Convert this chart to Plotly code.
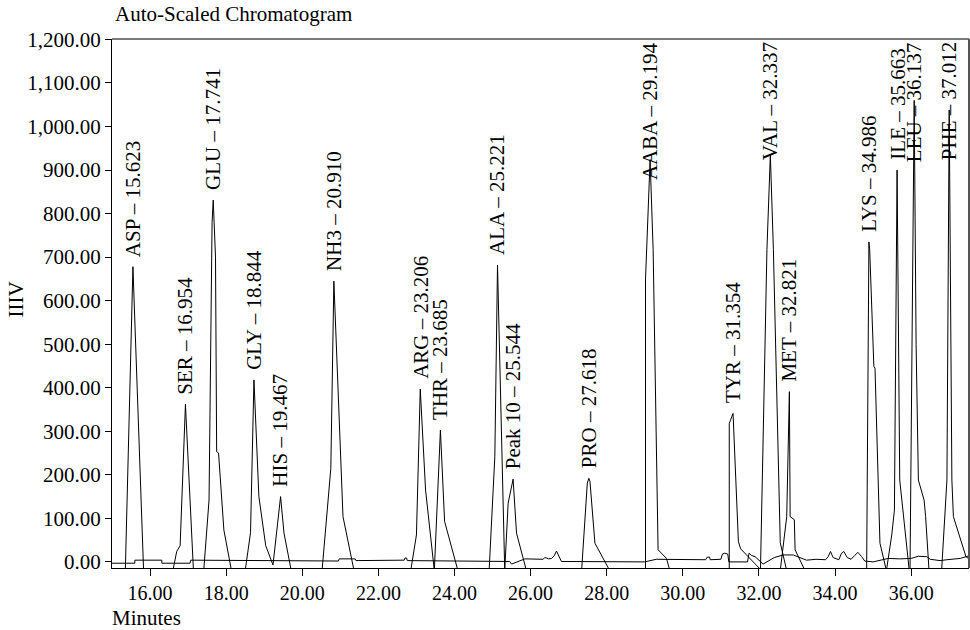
import plotly.graph_objects as go

# ---------------- data ----------------
peak_names = ["ASP", "SER", "GLU", "GLY", "HIS", "NH3", "ARG", "THR", "ALA", "Peak 10",
              "PRO", "AABA", "TYR", "VAL", "MET", "LYS", "ILE", "LEU", "PHE"]
peak_rt = ["15.623", "16.954", "17.741", "18.844", "19.467", "20.910", "23.206", "23.685",
           "25.221", "25.544", "27.618", "29.194", "31.354", "32.337", "32.821", "34.986",
           "35.663", "36.137", "37.012"]
apex_time = [15.55, 16.93, 17.65, 18.73, 19.43, 20.83, 23.10, 23.63, 25.13, 25.54,
             27.53, 29.14, 31.32, 32.30, 32.80, 34.89, 35.63, 36.08, 37.00]
apex_mv = [678, 362, 831, 418, 150, 645, 397, 303, 682, 190,
           192, 924, 341, 935, 391, 735, 900, 1060, 1038]

# sample chromatogram, one segment per peak group (time in minutes, signal in mV)
sample_segments = [
    [(15.35, -20), (15.55, 678), (15.83, -20)],
    [(16.60, -20), (16.70, 24), (16.79, 37), (16.93, 362), (17.14, -20)],
    [(17.41, -20), (17.55, 142), (17.63, 780), (17.66, 831), (17.72, 700), (17.75, 253),
     (17.80, 250), (17.94, 73), (18.14, -20)],
    [(18.50, -20), (18.64, 67), (18.73, 418), (18.86, 150), (19.04, 37), (19.23, -7),
     (19.43, 150), (19.52, 66), (19.71, -20)],
    [(20.52, -20), (20.75, 215), (20.83, 645), (21.07, 104), (21.36, -20)],
    [(22.85, -20), (23.00, 62), (23.10, 397), (23.24, 165), (23.47, -20), (23.63, 303),
     (23.74, 93), (24.09, -20)],
    [(24.91, -20), (25.06, 242), (25.13, 682), (25.32, -20), (25.41, 135), (25.54, 190),
     (25.63, 66), (25.89, -20)],
    [(27.34, -20), (27.49, 181), (27.53, 192), (27.56, 185), (27.69, 43), (28.08, -20)],
    [(29.02, -20), (29.02, 650), (29.14, 924), (29.22, 717), (29.35, 28), (29.57, 8),
     (29.66, -20)],
    [(31.22, -20), (31.22, 318), (31.32, 341), (31.46, 47), (31.52, 30), (31.72, 12),
     (32.07, -20)],
    [(32.04, -20), (32.21, 717), (32.30, 935), (32.38, 717), (32.56, 44), (32.73, -20)],
    [(32.56, -20), (32.73, 104), (32.80, 391), (32.82, 104), (32.93, 97), (32.95, 28),
     (33.21, -20)],
    [(34.83, -20), (34.89, 735), (34.91, 717), (35.02, 449), (35.05, 445), (35.18, 43),
     (35.35, -20)],
    [(35.35, -20), (35.49, 62), (35.56, 119), (35.63, 900), (35.70, 188), (35.84, 66),
     (35.95, -20)],
    [(35.97, -20), (36.08, 1060), (36.13, 500), (36.19, 188), (36.34, 142), (36.38, 104),
     (36.47, -20)],
    [(36.80, -20), (36.94, 188), (37.00, 1038), (37.07, 188), (37.11, 104), (37.44, 12),
     (37.55, 5)],
]

# baseline / blank trace
baseline_time = [15.0, 15.60, 15.60, 16.31, 16.31, 17.05, 17.07, 20.95, 20.97, 21.39, 21.41,
                 22.68, 22.70, 22.74, 22.76, 25.45, 25.50, 25.85, 26.33, 26.37, 26.42, 26.47,
                 26.55, 26.62, 26.68, 26.74, 26.81, 29.00, 29.30, 30.60, 30.64, 30.70, 30.72,
                 31.00, 31.04, 31.10, 31.18, 31.21, 31.70, 31.74, 31.80, 31.90, 32.11, 32.40,
                 32.64, 32.90, 33.25, 33.50, 33.75, 33.82, 33.88, 33.95, 34.10, 34.17, 34.23,
                 34.32, 34.42, 34.52, 34.60, 34.70, 34.78, 35.00, 35.28, 35.40, 35.70, 36.00,
                 36.19, 36.41, 36.50, 36.76, 36.94, 37.29, 37.44, 37.52]
baseline_mv = [-3, -3, 4, 4, -3, -3, 4, 2, 7, 7, 3,
               4, 9, 9, 3, 1, -5, 7, 6, 10, 9, 7,
               8, 14, 25, 14, 1, 0, 6, 5, 11, 11, 5,
               6, 18, 20, 18, 0, 0, 20, 15, 12, -5, 10,
               16, 16, 4, 6, 5, 12, 24, 10, 5, 20, 24,
               10, 6, 15, 22, 12, 2, 0, 5, 8, 7, 8,
               13, 12, 6, 3, 5, 8, 12, 14]

y_ticks = list(range(0, 1201, 100))
x_ticks = list(range(16, 37, 2))

# ---------------- figure ----------------
FONT = "Liberation Serif, Times New Roman, serif"

sx, sy = [], []
for seg in sample_segments:
    for t, v in seg:
        sx.append(t)
        sy.append(v)
    sx.append(None)
    sy.append(None)

fig = go.Figure()
fig.add_trace(go.Scatter(x=baseline_time, y=baseline_mv, mode="lines",
                         line=dict(color="black", width=1), hoverinfo="skip",
                         showlegend=False))
fig.add_trace(go.Scatter(x=sx, y=sy, mode="lines", connectgaps=False,
                         line=dict(color="black", width=1), hoverinfo="skip",
                         showlegend=False))

PLOT_TOP_PX = 39
PLOT_H = 529
Y0, Y1 = -14, 1201
px_per_mv = PLOT_H / (Y1 - Y0)

for name, rt, t, v in zip(peak_names, peak_rt, apex_time, apex_mv):
    text = f"{name} – {rt}"
    apex_px = PLOT_TOP_PX + (Y1 - v) * px_per_mv
    est_len = len(text) * 9.8
    if apex_px - 8 - est_len < PLOT_TOP_PX + 2:
        fig.add_annotation(x=t, y=1, xref="x", yref="paper", yanchor="top",
                           xanchor="center", yshift=-1, text=text, textangle=-90,
                           showarrow=False, font=dict(family=FONT, size=21, color="black"))
    else:
        fig.add_annotation(x=t, y=v, xref="x", yref="y", yanchor="bottom",
                           xanchor="center", yshift=8, text=text, textangle=-90,
                           showarrow=False, font=dict(family=FONT, size=21, color="black"))

fig.add_annotation(text="Auto-Scaled Chromatogram", xref="paper", yref="paper",
                   x=(113 - 112) / 857, y=1 + (39 - 14) / 529, xanchor="left",
                   yanchor="middle", showarrow=False,
                   font=dict(family=FONT, size=21, color="black"))
fig.add_annotation(text="Minutes", xref="paper", yref="paper",
                   x=-2 / 857, y=-(618 - 568) / 529, xanchor="left", yanchor="middle",
                   showarrow=False, font=dict(family=FONT, size=21, color="black"))
fig.add_annotation(text="IIIV", xref="paper", yref="paper",
                   x=(15.5 - 112) / 857, y=(568 - 300) / 529, xanchor="center",
                   yanchor="middle", textangle=-90, showarrow=False,
                   font=dict(family=FONT, size=21, color="black"))

# frame (top and right in gray)
fig.add_shape(type="line", xref="paper", yref="paper", x0=0, x1=1, y0=1, y1=1,
              line=dict(color="#7a7a7a", width=2))
fig.add_shape(type="line", xref="paper", yref="paper", x0=1, x1=1, y0=0, y1=1,
              line=dict(color="#555555", width=2))

fig.update_xaxes(range=[15.0, 37.52], tickvals=x_ticks, tickformat=".2f",
                 ticks="outside", ticklen=7, tickcolor="black", showline=True,
                 linecolor="black", linewidth=1, showgrid=False, zeroline=False,
                 tickfont=dict(family=FONT, size=20, color="black"))
fig.update_yaxes(range=[Y0, Y1], tickvals=y_ticks, tickformat=",.2f",
                 ticks="outside", ticklen=6, tickcolor="black", showline=True,
                 linecolor="black", linewidth=1, showgrid=False, zeroline=False,
                 tickfont=dict(family=FONT, size=21, color="black"))

fig.update_layout(width=970, height=630, margin=dict(l=112, r=1, t=39, b=62),
                  paper_bgcolor="white", plot_bgcolor="white", showlegend=False,
                  font=dict(family=FONT, size=21, color="black"))

fig.write_html("out.html")
